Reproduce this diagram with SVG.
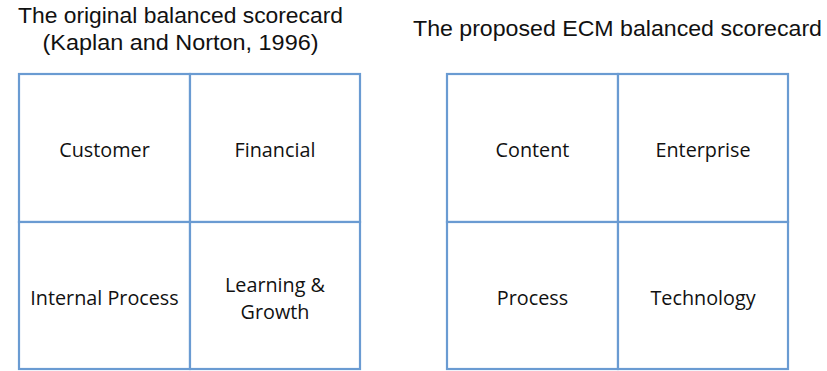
<svg xmlns="http://www.w3.org/2000/svg" width="827" height="371" viewBox="0 0 827 371">
  <style>
    .title { font-family: "Liberation Sans", Arial, sans-serif; font-size: 22px; fill: #111; text-anchor: middle; }
    .cell { fill: #fff; stroke: #6a9bd2; stroke-width: 2.2; }
    .label { font-family: "Open Sans", Lato, sans-serif; font-size: 19.8px; fill: #111; text-anchor: middle; }
  </style>
  <rect width="827" height="371" fill="#fff"/>

  <!-- Headings -->
  <text class="title" x="180.5" y="23" textLength="325" lengthAdjust="spacingAndGlyphs">The original balanced scorecard</text>
  <text class="title" x="180.5" y="50" textLength="276" lengthAdjust="spacingAndGlyphs">(Kaplan and Norton, 1996)</text>
  <text class="title" x="617.5" y="36" textLength="409" lengthAdjust="spacingAndGlyphs">The proposed ECM balanced scorecard</text>

  <!-- Original scorecard -->
  <g id="customer">
    <rect class="cell" x="19" y="74" width="171" height="148"/>
    <text class="label" x="104.5" y="157">Customer</text>
  </g>
  <g id="financial">
    <rect class="cell" x="190" y="74" width="170" height="148"/>
    <text class="label" x="275" y="157">Financial</text>
  </g>
  <g id="internal-process">
    <rect class="cell" x="19" y="222" width="171" height="147"/>
    <text class="label" x="104.5" y="305">Internal Process</text>
  </g>
  <g id="learning-growth">
    <rect class="cell" x="190" y="222" width="170" height="147"/>
    <text class="label" x="275" y="292">Learning &amp;</text>
    <text class="label" x="275" y="319">Growth</text>
  </g>

  <!-- Proposed ECM scorecard -->
  <g id="content">
    <rect class="cell" x="447" y="74" width="171" height="148"/>
    <text class="label" x="532.5" y="157">Content</text>
  </g>
  <g id="enterprise">
    <rect class="cell" x="618" y="74" width="170" height="148"/>
    <text class="label" x="703" y="157">Enterprise</text>
  </g>
  <g id="process">
    <rect class="cell" x="447" y="222" width="171" height="147"/>
    <text class="label" x="532.5" y="305">Process</text>
  </g>
  <g id="technology">
    <rect class="cell" x="618" y="222" width="170" height="147"/>
    <text class="label" x="703" y="305">Technology</text>
  </g>

  <g id="connectors"/>
</svg>
